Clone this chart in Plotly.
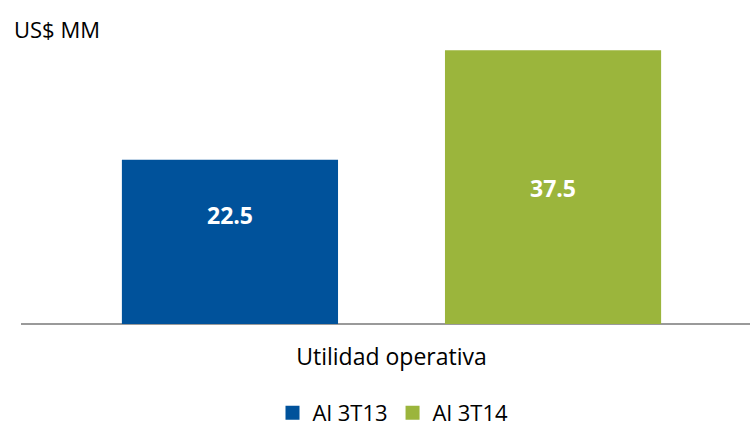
import plotly.graph_objects as go

categories = ["Utilidad operativa"]
series_names = ["Al 3T13", "Al 3T14"]
values_3t13 = [22.5]
values_3t14 = [37.5]
unit_label = "US$ MM"

colors = ["#00529B", "#9BB53C"]
label_y = [14.9, 18.6]  # vertical placement of the value labels (layout)

W, H = 750, 426
ml, mr, mt, mb = 21, 0, 40, 102
plot_w = W - ml - mr
plot_h = H - mt - mb
FONT = "Open Sans"

fig = go.Figure()
for name, vals, col in zip(series_names, [values_3t13, values_3t14], colors):
    fig.add_trace(go.Bar(
        x=categories, y=vals, name=name,
        marker=dict(color=col, line=dict(width=0)),
        hoverinfo="x+y+name", showlegend=False,
    ))
# legend entries with larger square swatches
for name, col in zip(series_names, colors):
    fig.add_trace(go.Scatter(
        x=[None], y=[None], mode="markers", name=name,
        marker=dict(symbol="square", size=14, color=col),
        showlegend=True,
    ))

# value labels
shift = 161.5
for i, vals in enumerate([values_3t13, values_3t14]):
    fig.add_annotation(
        x=categories[0], y=label_y[i], xref="x", yref="y",
        xshift=(-shift if i == 0 else shift),
        text=f"<b>{vals[0]:.1f}</b>", showarrow=False,
        font=dict(family=FONT, size=23, color="white"),
    )

fig.add_annotation(
    x=(12 - ml) / plot_w, y=(mt + plot_h - 29) / plot_h,
    xref="paper", yref="paper", xanchor="left", yanchor="middle",
    text=unit_label, showarrow=False,
    font=dict(family=FONT, size=22, color="#000000"),
)

fig.update_layout(
    width=W, height=H,
    margin=dict(l=ml, r=mr, t=mt, b=mb, autoexpand=False),
    paper_bgcolor="white", plot_bgcolor="white",
    barmode="group", bargap=0.128, bargroupgap=0.331,
    font=dict(family=FONT, size=22, color="#000000"),
    showlegend=True,
    legend=dict(
        orientation="h", x=393 / W, xanchor="center", xref="container",
        y=1 - 413 / H, yanchor="middle", yref="container",
        font=dict(family=FONT, size=22, color="#000000"),
        traceorder="normal", itemwidth=30, tracegroupgap=0,
    ),
    xaxis=dict(
        range=[-0.5, -0.5 + plot_w / 741], showgrid=False, zeroline=False,
        showline=False, ticks="", tickfont=dict(size=23),
        ticklabelstandoff=17, automargin=False,
    ),
    yaxis=dict(
        range=[0, plot_h / 7.3], showgrid=False, zeroline=True,
        zerolinecolor="#9A9A9A", zerolinewidth=2, showticklabels=False,
        showline=False, ticks="", automargin=False,
    ),
)

fig.write_html(
    "out.html",
    config={"displayModeBar": False},
    post_script="document.body.style.margin='0';document.body.style.overflow='hidden';",
)
